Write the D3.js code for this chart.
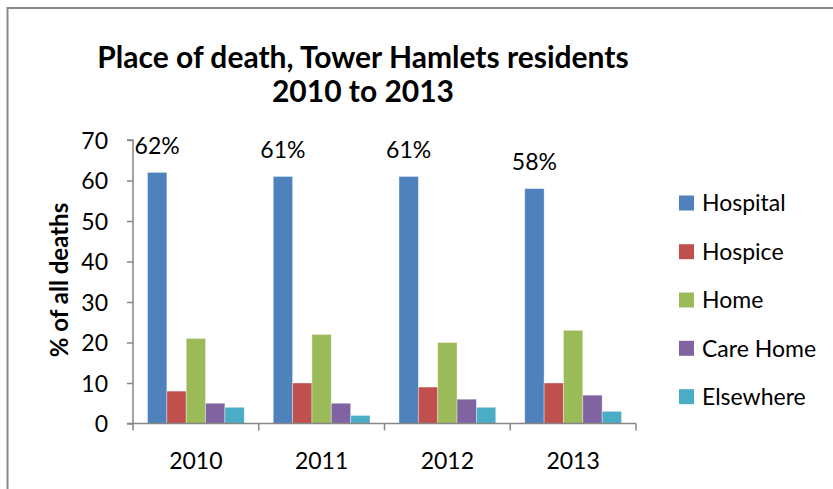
<!DOCTYPE html>
<html>
<head>
<meta charset="utf-8">
<script src="https://cdn.jsdelivr.net/npm/d3@7"></script>
<style>
  html, body { margin: 0; padding: 0; background: #fff; }
  svg { display: block; }
  text { font-family: Lato, "Open Sans", sans-serif; fill: #000; }
</style>
</head>
<body>
<svg id="chart" width="833" height="489"></svg>
<script>
// Place of death, Tower Hamlets residents (% of all deaths)
const years = ["2010", "2011", "2012", "2013"];
const seriesNames = ["Hospital", "Hospice", "Home", "Care Home", "Elsewhere"];
const hospital  = [62, 61, 61, 58];
const hospice   = [8, 10, 9, 10];
const home      = [21, 22, 20, 23];
const careHome  = [5, 5, 6, 7];
const elsewhere = [4, 2, 4, 3];
const yTicks = [0, 10, 20, 30, 40, 50, 60, 70];
const hospitalLabels = ["62%", "61%", "61%", "58%"];

const seriesValues = [hospital, hospice, home, careHome, elsewhere];
const colors = ["#4F81BD", "#C0504D", "#9BBB59", "#8064A2", "#4BACC6"];
const axisColor = "#868686";

const svg = d3.select("#chart");
const W = 833, H = 489;

// outer frame (top and left edges visible)
svg.append("line").attr("x1", 7.5).attr("x2", W).attr("y1", 8).attr("y2", 8)
  .attr("stroke", "#8a8a8a").attr("stroke-width", 2);
svg.append("line").attr("x1", 7.5).attr("x2", 7.5).attr("y1", 7).attr("y2", H)
  .attr("stroke", "#8a8a8a").attr("stroke-width", 2);

// title
const title = svg.append("text").attr("text-anchor", "middle")
  .style("font-weight", "bold").style("font-size", "30px");
title.append("tspan").attr("x", 363).attr("y", 68).text("Place of death, Tower Hamlets residents");
title.append("tspan").attr("x", 363).attr("y", 102).text("2010 to 2013");

// scales
const plot = { left: 133, right: 636, top: 140, bottom: 423.5 };
const x = d3.scaleBand().domain(years).range([plot.left, plot.right]).padding(0);
const bw = x.bandwidth();
const barW = bw / 6.5;
const xs = d3.scaleBand().domain(seriesNames)
  .range([bw * 0.75 / 6.5, bw * 0.75 / 6.5 + barW * 5]).padding(0);
const y = d3.scaleLinear().domain([0, 70]).range([plot.bottom, plot.top]);

// bars
const groups = svg.append("g").selectAll("g")
  .data(years).join("g")
  .attr("transform", d => `translate(${x(d)},0)`);
groups.selectAll("rect")
  .data((yr, i) => seriesNames.map((s, k) => ({ s, k, v: seriesValues[k][i] })))
  .join("rect")
  .attr("x", d => xs(d.s))
  .attr("width", xs.bandwidth())
  .attr("y", d => y(d.v))
  .attr("height", d => y(0) - y(d.v))
  .attr("fill", d => colors[d.k])
  .attr("stroke", "rgba(255,255,255,0.45)")
  .attr("stroke-width", 0.8);

// hospital value labels
svg.append("g").selectAll("text")
  .data(years).join("text")
  .attr("text-anchor", "middle")
  .attr("x", (d, i) => x(d) + xs("Hospital") + xs.bandwidth() / 2)
  .attr("y", (d, i) => y(hospital[i]) - 18.6)
  .style("font-size", "23px")
  .text((d, i) => hospitalLabels[i]);

// y axis
const yAxis = svg.append("g").attr("transform", `translate(${plot.left},0)`)
  .call(d3.axisLeft(y).tickValues(yTicks).tickSize(6).tickPadding(19));
yAxis.select(".domain").attr("stroke", axisColor).attr("stroke-width", 1.5)
  .attr("d", `M-6,${plot.top}H0V${plot.bottom}`);
yAxis.selectAll(".tick line").attr("stroke", axisColor).attr("stroke-width", 1.5);
yAxis.selectAll(".tick text").style("font-size", "23px")
  .style("font-family", "Lato, sans-serif").attr("fill", "#000").attr("dy", "0.36em");

// x axis: baseline with tick marks at category boundaries
const xAxis = svg.append("g");
xAxis.append("line").attr("x1", plot.left - 6).attr("x2", plot.right)
  .attr("y1", plot.bottom).attr("y2", plot.bottom)
  .attr("stroke", axisColor).attr("stroke-width", 1.5);
const boundaries = years.map(d => x(d)).concat([x(years[years.length - 1]) + bw]);
xAxis.selectAll("line.tick").data(boundaries).join("line").attr("class", "tick")
  .attr("x1", d => d).attr("x2", d => d)
  .attr("y1", plot.bottom).attr("y2", plot.bottom + 7)
  .attr("stroke", axisColor).attr("stroke-width", 1.5);
xAxis.selectAll("text").data(years).join("text")
  .attr("text-anchor", "middle")
  .attr("x", d => x(d) + bw / 2)
  .attr("y", 469)
  .style("font-size", "23px")
  .text(d => d);

// y axis title
svg.append("text")
  .attr("transform", "rotate(-90)")
  .attr("x", -280).attr("y", 68)
  .attr("text-anchor", "middle")
  .style("font-weight", "bold").style("font-size", "24px")
  .text("% of all deaths");

// legend
const legendRows = [203, 251.7, 300, 348.3, 396.7];
const legend = svg.append("g").selectAll("g")
  .data(seriesNames).join("g")
  .attr("transform", (d, i) => `translate(679,${legendRows[i]})`);
legend.append("rect").attr("x", 0).attr("y", -7.5).attr("width", 15).attr("height", 15)
  .attr("fill", (d, i) => colors[i]);
legend.append("text").attr("x", 23).attr("y", 8.3)
  .style("font-size", "23px").text(d => d);
</script>
</body>
</html>
